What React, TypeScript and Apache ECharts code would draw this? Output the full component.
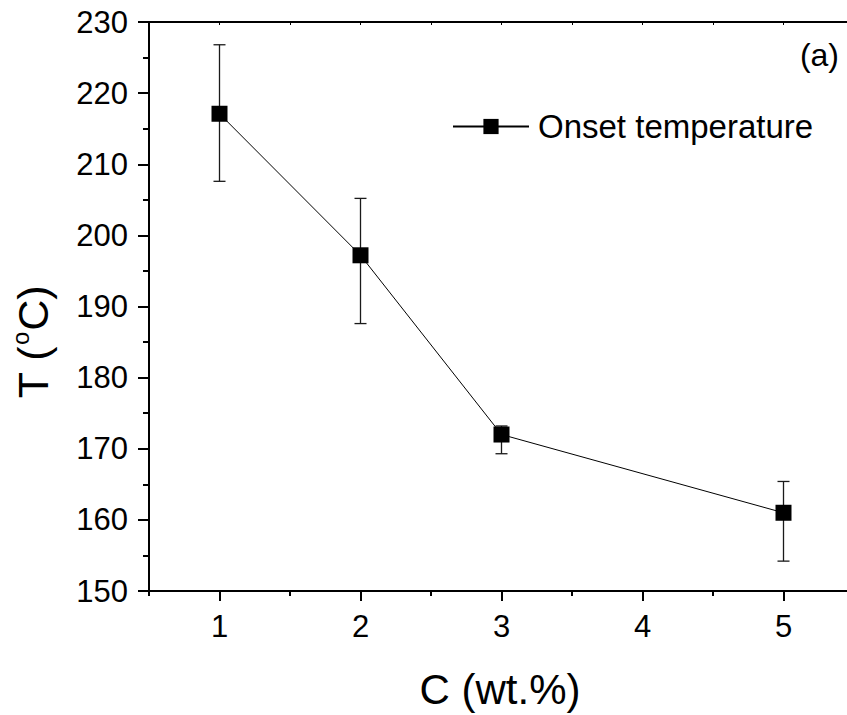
import React, { useEffect, useRef } from "react";
import * as echarts from "echarts";

const C_VALUES = [1, 2, 3, 5];
const ONSET_T = [217.1, 197.2, 172.0, 161.0];
const ERR_LOW = [207.6, 187.6, 169.3, 154.2];
const ERR_HIGH = [226.8, 205.2, 173.2, 165.4];
const X_LABEL_TICKS = [1, 2, 3, 4, 5];
const X_MINOR_TICKS = [0.5, 1.5, 2.5, 3.5, 4.5, 5.5];
const X_TOP_TICKS = [0.5, 1, 1.5, 2, 2.5, 3, 3.5, 4, 4.5, 5, 5.5];
const SERIES_NAME = "Onset temperature";
const X_TITLE = "C (wt.%)";
const PANEL_LABEL = "(a)";

const FONT = "'Liberation Sans', Arial, Helvetica, sans-serif";

export default function App() {
  const ref = useRef<HTMLDivElement>(null);
  useEffect(() => {
    if (!ref.current) return;
    const chart = echarts.init(ref.current, null, { renderer: "svg" });
    const points = C_VALUES.map((c, i) => [c, ONSET_T[i]]);
    const errs = C_VALUES.map((c, i) => [c, ERR_LOW[i], ERR_HIGH[i]]);
    const xCommon = { type: "value", min: 0.5, max: 5.5, gridIndex: 0 };
    chart.setOption({
      animation: false,
      backgroundColor: "#fff",
      textStyle: { fontFamily: FONT },
      grid: {
        left: 149,
        right: -7,
        top: 22,
        bottom: 124,
        containLabel: false,
        outerBoundsMode: "none",
      },
      legend: {
        show: true,
        data: [SERIES_NAME],
        left: 447,
        top: 105,
        itemWidth: 76,
        itemHeight: 19,
        textStyle: { fontSize: 33, color: "#000", fontFamily: FONT, padding: [0, 0, 0, 4] },
      },
      xAxis: [
        {
          ...xCommon,
          position: "bottom",
          axisLine: { show: true, lineStyle: { color: "#000", width: 2 } },
          axisTick: { show: true, length: 10, lineStyle: { color: "#000", width: 2 }, customValues: X_LABEL_TICKS },
          axisLabel: { show: true, fontSize: 31, color: "#000", margin: 20, fontFamily: FONT, customValues: X_LABEL_TICKS },
          splitLine: { show: false },
        },
        {
          ...xCommon,
          position: "bottom",
          axisLine: { show: false },
          axisTick: { show: true, length: 5, lineStyle: { color: "#000", width: 2 }, customValues: X_MINOR_TICKS },
          axisLabel: { show: false },
          splitLine: { show: false },
        },
        {
          ...xCommon,
          position: "top",
          axisLine: { show: true, lineStyle: { color: "#000", width: 2 } },
          axisTick: { show: true, inside: true, length: 3, lineStyle: { color: "#000", width: 1 }, customValues: X_TOP_TICKS },
          axisLabel: { show: false },
          splitLine: { show: false },
        },
      ],
      yAxis: [
        {
          type: "value",
          min: 150,
          max: 230,
          interval: 10,
          position: "left",
          axisLine: { show: true, lineStyle: { color: "#000", width: 2 } },
          axisTick: { show: true, length: 11, lineStyle: { color: "#000", width: 2 } },
          minorTick: { show: true, splitNumber: 2, length: 6, lineStyle: { color: "#000", width: 2 } },
          axisLabel: { show: true, fontSize: 31, color: "#000", margin: 21, fontFamily: FONT },
          splitLine: { show: false },
          minorSplitLine: { show: false },
        },
        {
          type: "value",
          min: 150,
          max: 230,
          interval: 10,
          position: "right",
          axisLine: { show: true, lineStyle: { color: "#000", width: 2 } },
          axisTick: { show: true, inside: true, length: 3, lineStyle: { color: "#000", width: 1 } },
          axisLabel: { show: false },
          splitLine: { show: false },
        },
      ],
      series: [
        {
          type: "custom",
          name: "error",
          xAxisIndex: 0,
          yAxisIndex: 0,
          data: errs,
          z: 2,
          silent: true,
          renderItem: (params: any, api: any) => {
            const x = api.value(0);
            const lo = api.coord([x, api.value(1)]);
            const hi = api.coord([x, api.value(2)]);
            const hw = 6;
            const style = { stroke: "#1a1a1a", lineWidth: 1.3 };
            return {
              type: "group",
              children: [
                { type: "line", shape: { x1: lo[0], y1: lo[1], x2: hi[0], y2: hi[1] }, style },
                { type: "line", shape: { x1: lo[0] - hw, y1: lo[1], x2: lo[0] + hw, y2: lo[1] }, style },
                { type: "line", shape: { x1: hi[0] - hw, y1: hi[1], x2: hi[0] + hw, y2: hi[1] }, style },
              ],
            };
          },
        },
        {
          type: "line",
          name: SERIES_NAME,
          xAxisIndex: 0,
          yAxisIndex: 0,
          data: points,
          z: 3,
          symbol: "rect",
          symbolSize: 16,
          itemStyle: { color: "#000" },
          lineStyle: { color: "#000", width: 1 },
        },
      ],
      graphic: [
        {
          type: "text",
          x: 500,
          y: 689,
          style: {
            text: X_TITLE,
            fontSize: 42,
            fontFamily: FONT,
            fill: "#000",
            align: "center",
            verticalAlign: "middle",
          },
        },
        {
          type: "text",
          x: 33,
          y: 342,
          rotation: Math.PI / 2,
          style: {
            text: "{m|T (}{s|o}{m|C)}",
            fontFamily: FONT,
            fill: "#000",
            align: "center",
            verticalAlign: "middle",
            rich: {
              m: { fontSize: 43, fontFamily: FONT, fill: "#000", lineHeight: 50 },
              s: { fontSize: 24, fontFamily: FONT, fill: "#000", verticalAlign: "top", lineHeight: 50, padding: [0, 1, 0, 1] },
            },
          },
        },
        {
          type: "text",
          x: 839,
          y: 55,
          style: {
            text: PANEL_LABEL,
            fontSize: 32,
            fontFamily: FONT,
            fill: "#000",
            align: "right",
            verticalAlign: "middle",
          },
        },
      ],
    });
    return () => chart.dispose();
  }, []);
  return (
    <div
      ref={ref}
      style={{ position: "absolute", left: 0, top: 0, width: 847, height: 715 }}
    />
  );
}
